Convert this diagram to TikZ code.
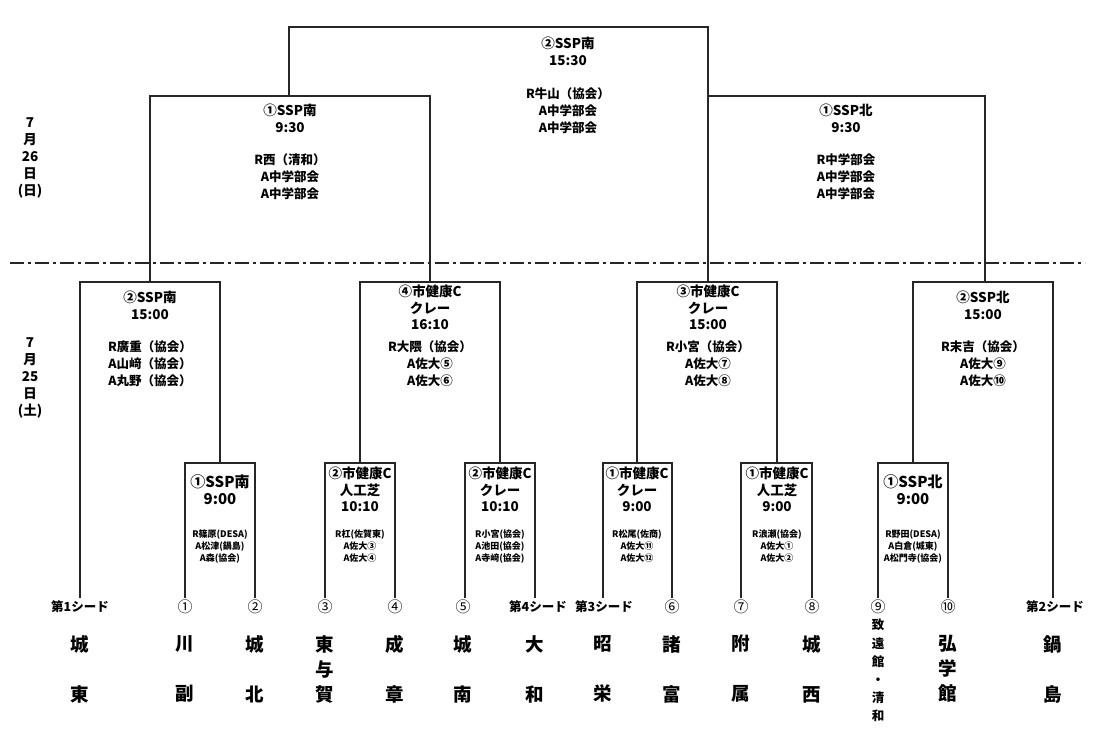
\documentclass[tikz,border=0pt]{standalone}
\usepackage{fontspec}
\setmainfont{Noto Sans CJK JP}
\begin{document}
\begin{tikzpicture}[x=1pt,y=-1pt,
  br/.style={draw=black!85, line width=1.2pt},
  hdr/.style={font=\fontsize{13.5}{16.8}\selectfont\bfseries, align=center, anchor=north, inner sep=0pt},
  hdrbig/.style={font=\fontsize{15}{17}\selectfont\bfseries, align=center, anchor=north, inner sep=0pt},
  ref/.style={font=\fontsize{12.5}{16.8}\selectfont\bfseries, align=center, anchor=north, inner sep=0pt},
  refsm/.style={font=\fontsize{9}{12}\selectfont\bfseries, align=center, anchor=north, inner sep=0pt},
  date/.style={font=\fontsize{13.5}{17}\selectfont\bfseries, align=center, anchor=north, inner sep=0pt},
  seed/.style={font=\fontsize{12.5}{14}\selectfont\bfseries, anchor=center, inner sep=0pt},
  num/.style={font=\fontsize{15}{15}\selectfont, anchor=center, inner sep=0pt},
  team/.style={font=\fontsize{18.5}{25}\selectfont\bfseries, align=center, anchor=north, inner sep=0pt},
  teamsm/.style={font=\fontsize{12.5}{18.2}\selectfont\bfseries, align=center, anchor=north, inner sep=0pt}]
\useasboundingbox (0,0) rectangle (1100,730);
\fill[white] (0,0) rectangle (1100,730);

% leaf coordinates
\coordinate (s1) at (80,598);
\coordinate (t1) at (185,598);
\coordinate (t2) at (255,598);
\coordinate (t3) at (325,598);
\coordinate (t4) at (395,598);
\coordinate (t5) at (465,598);
\coordinate (s4) at (535,598);
\coordinate (s3) at (603,598);
\coordinate (t6) at (672,598);
\coordinate (t7) at (741,598);
\coordinate (t8) at (812,598);
\coordinate (t9) at (878,598);
\coordinate (t10) at (948,598);
\coordinate (s2) at (1053,598);

% first round brackets (top y=463)
\draw[br] (t1) |- (220,463) -| (t2);
\draw[br] (t3) |- (360,463) -| (t4);
\draw[br] (t5) |- (500,463) -| (s4);
\draw[br] (s3) |- (637,463) -| (t6);
\draw[br] (t7) |- (777,463) -| (t8);
\draw[br] (t9) |- (913,463) -| (t10);

% quarter-final brackets (top y=282)
\draw[br] (s1) |- (150,282) -| (220,463);
\draw[br] (360,463) |- (430,282) -| (500,463);
\draw[br] (637,463) |- (708,282) -| (777,463);
\draw[br] (913,463) |- (985,282) -| (s2);

% semi-final brackets (top y=96)
\draw[br] (150,282) |- (290,96) -| (430,282);
\draw[br] (708,282) |- (846,96) -| (985,282);

% final (top y=27)
\draw[br] (289,96) |- (500,27) -| (708,96);

% day separator
\draw[black!85, line width=1.6pt, dash pattern=on 14pt off 4pt on 3pt off 4pt] (10,263) -- (1085,263);

% dates
\node[date] (d26) at (30,117) {7\\月\\26\\日\\(日)};
\node[date] (d25) at (30,337) {7\\月\\25\\日\\(土)};

% final
\node[hdr] (fh) at (568,37) {②SSP南\\15:30};
\node[ref] (fr) at (568,88) {R牛山（協会）\\A中学部会\\A中学部会};

% semi-finals
\node[hdr] (sfLh) at (290,104) {①SSP南\\9:30};
\node[ref] (sfLr) at (290,154) {R西（清和）\\A中学部会\\A中学部会};
\node[hdr] (sfRh) at (846,104) {①SSP北\\9:30};
\node[ref] (sfRr) at (846,154) {R中学部会\\A中学部会\\A中学部会};

% quarter-finals
\node[hdr] (q1h) at (150,291) {②SSP南\\15:00};
\node[ref] (q1r) at (150,341) {R廣重（協会）\\A山﨑（協会）\\A丸野（協会）};
\node[hdr] (q2h) at (430,284.5) {④市健康C\\クレー\\16:10};
\node[ref] (q2r) at (430,341) {R大隈（協会）\\A佐大⑤\\A佐大⑥};
\node[hdr] (q3h) at (708,284.5) {③市健康C\\クレー\\15:00};
\node[ref] (q3r) at (708,341) {R小宮（協会）\\A佐大⑦\\A佐大⑧};
\node[hdr] (q4h) at (983,291) {②SSP北\\15:00};
\node[ref] (q4r) at (983,341) {R末吉（協会）\\A佐大⑨\\A佐大⑩};

% first round
\node[hdrbig] (r1h) at (220,474) {①SSP南\\9:00};
\node[refsm] (r1r) at (220,530) {R篠原(DESA)\\A松津(鍋島)\\A森(協会)};
\node[hdr] (r2h) at (360,466.5) {②市健康C\\人工芝\\10:10};
\node[refsm] (r2r) at (360,530) {R杠(佐賀東)\\A佐大③\\A佐大④};
\node[hdr] (r3h) at (500,466.5) {②市健康C\\クレー\\10:10};
\node[refsm] (r3r) at (500,530) {R小宮(協会)\\A池田(協会)\\A寺﨑(協会)};
\node[hdr] (r4h) at (637,466.5) {①市健康C\\クレー\\9:00};
\node[refsm] (r4r) at (637,530) {R松尾(佐商)\\A佐大⑪\\A佐大⑫};
\node[hdr] (r5h) at (777,466.5) {①市健康C\\人工芝\\9:00};
\node[refsm] (r5r) at (777,530) {R浪瀬(協会)\\A佐大①\\A佐大②};
\node[hdrbig] (r6h) at (913,474) {①SSP北\\9:00};
\node[refsm] (r6r) at (913,530) {R野田(DESA)\\A白倉(城東)\\A松門寺(協会)};

% seed / draw labels
\node[seed] (ls1) at (80,607) {第1シード};
\node[num] (lt1) at (185,607) {①};
\node[num] (lt2) at (255,607) {②};
\node[num] (lt3) at (325,607) {③};
\node[num] (lt4) at (395,607) {④};
\node[num] (lt5) at (463,607) {⑤};
\node[seed] (ls4) at (538,607) {第4シード};
\node[seed] (ls3) at (604,607) {第3シード};
\node[num] (lt6) at (672,607) {⑥};
\node[num] (lt7) at (741,607) {⑦};
\node[num] (lt8) at (812,607) {⑧};
\node[num] (lt9) at (878,607) {⑨};
\node[num] (lt10) at (948,607) {⑩};
\node[seed] (ls2) at (1055,607) {第2シード};

% team names
\node[team] (n1) at (80,635) {城\\[25pt]東};
\node[team] (n2) at (185,635) {川\\[25pt]副};
\node[team] (n3) at (255,635) {城\\[25pt]北};
\node[team] (n4) at (325,635) {東\\与\\賀};
\node[team] (n5) at (395,635) {成\\[25pt]章};
\node[team] (n6) at (463,635) {城\\[25pt]南};
\node[team] (n7) at (535,635) {大\\[25pt]和};
\node[team] (n8) at (603,635) {昭\\[25pt]栄};
\node[team] (n9) at (672,635) {諸\\[25pt]富};
\node[team] (n10) at (741,635) {附\\[25pt]属};
\node[team] (n11) at (812,635) {城\\[25pt]西};
\node[teamsm] (n12) at (878,619) {致\\遠\\館\\・\\清\\和};
\node[team] (n13) at (948,635) {弘\\学\\館};
\node[team] (n14) at (1053,635) {鍋\\[25pt]島};
\end{tikzpicture}
\end{document}
